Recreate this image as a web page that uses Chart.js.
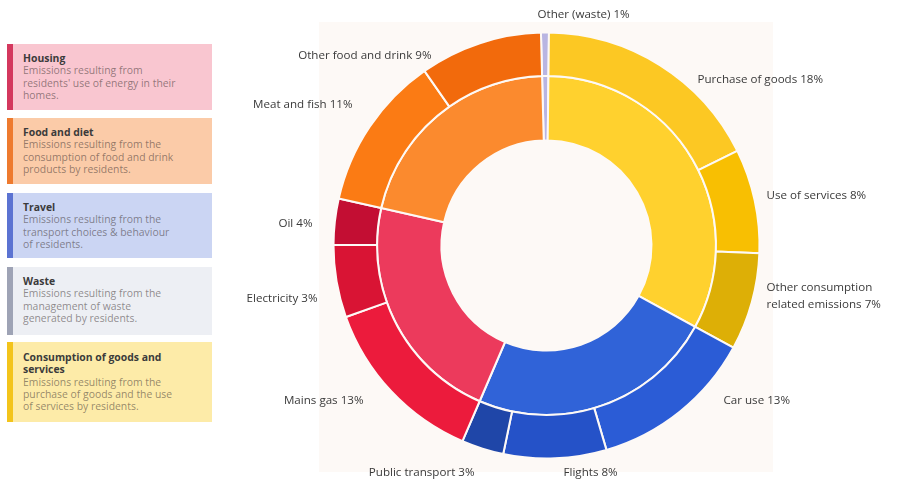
<!DOCTYPE html>
<html>
<head>
<meta charset="utf-8">
<script src="https://cdn.jsdelivr.net/npm/chart.js@4.4.1/dist/chart.umd.min.js"></script>
<style>
  html, body { margin:0; padding:0; background:#ffffff; width:900px; height:480px; overflow:hidden; }
  #panel { position:absolute; left:319px; top:22px; width:454px; height:450px; background:#fdf9f6; }
  #wrap { position:absolute; left:0; top:0; width:900px; height:480px; }
  .lg { position:absolute; left:7px; width:205px; box-sizing:border-box; padding:8px 0 0 16px;
        font-family:"Open Sans", sans-serif; font-size:10.4px; line-height:12.3px; }
  .lg .bar { position:absolute; left:0; top:0; bottom:0; width:6px; }
  .lg .t { font-weight:bold; color:#3b3b3b; }
  .lg .d { color:rgba(60,50,50,0.55); }
</style>
</head>
<body>
<div id="panel"></div>
<div id="legend"></div>
<div id="wrap"><canvas id="c" width="900" height="480"></canvas></div>
<script>
// ---- data ----
const outerNames = ['Other (waste)', 'Purchase of goods', 'Use of services', 'Other consumption related emissions',
  'Car use', 'Flights', 'Public transport', 'Mains gas', 'Electricity', 'Oil', 'Meat and fish', 'Other food and drink'];
const outerLabelPct = [1, 18, 8, 7, 13, 8, 3, 13, 3, 4, 11, 9];          // percentages printed in the labels
const outerArcValues = [0.6, 17.5, 7.9, 7.4, 12.5, 7.8, 3.2, 13.1, 5.5, 3.5, 11.75, 9.3]; // arc sizes as drawn
const outerColors = ['#b9b5e2', '#fcc823', '#f8bf02', '#ddaf06', '#2b5cd6', '#2552c8', '#1f46a8',
  '#ec1b3c', '#d91434', '#c30e33', '#fb7b14', '#f26a0c'];

const innerNames = ['Waste', 'Consumption of goods and services', 'Travel', 'Housing', 'Food and diet'];
const innerArcValues = [0.6, 32.8, 23.5, 22.1, 21.05];
const innerColors = ['#b9b5e2', '#ffd12e', '#3063d8', '#ec3a5c', '#fb8a2e'];

const legendTitles = [['Housing'], ['Food and diet'], ['Travel'], ['Waste'], ['Consumption of goods and', 'services']];
const legendDescs = [
  ['Emissions resulting from', "residents' use of energy in their", 'homes.'],
  ['Emissions resulting from the', 'consumption of food and drink', 'products by residents.'],
  ['Emissions resulting from the', 'transport choices & behaviour', 'of residents.'],
  ['Emissions resulting from the', 'management of waste', 'generated by residents.'],
  ['Emissions resulting from the', 'purchase of goods and the use', 'of services by residents.']
];
const legendBg = ['#f9c6d0', '#fbcba8', '#cbd5f3', '#edeff4', '#fdeba8'];
const legendBar = ['#d4385e', '#ee7a2e', '#5b73d2', '#9ea3b5', '#f3c41b'];

// ---- layout (not data) ----
const legendTops = [44, 118, 193, 267, 342];
const legendHeights = [66, 66, 65, 68, 80];
const legendPadTop = [8, 8, 8, 8, 9];
// label anchors relative to the doughnut centre: [dx, dy, align]
const labelAnchors = [
  [-9, -231, 'left'], [151, -166, 'left'], [220, -50, 'left'], [220, 42, 'left'],
  [177, 155, 'left'], [17, 227, 'left'], [-72, 227, 'right'], [-183, 155, 'right'],
  [-229, 53, 'right'], [-234, -22, 'right'], [-194, -141, 'right'], [-115, -190, 'right']
];

// ---- legend ----
const lg = document.getElementById('legend');
legendTitles.forEach((t, i) => {
  const d = document.createElement('div');
  d.className = 'lg';
  d.style.top = legendTops[i] + 'px';
  d.style.height = legendHeights[i] + 'px';
  d.style.paddingTop = legendPadTop[i] + 'px';
  d.style.background = legendBg[i];
  d.innerHTML = '<div class="bar" style="background:' + legendBar[i] + '"></div>' +
    t.map(s => '<div class="t">' + s + '</div>').join('') +
    legendDescs[i].map(s => '<div class="d">' + s + '</div>').join('');
  lg.appendChild(d);
});

// ---- labels plugin ----
const labelPlugin = {
  id: 'ringLabels',
  afterDraw(chart) {
    const meta = chart.getDatasetMeta(0);
    const arc = meta.data[0];
    const cx = arc.x, cy = arc.y;
    const ctx = chart.ctx;
    ctx.save();
    ctx.font = '11.6px "Open Sans", sans-serif';
    ctx.fillStyle = '#3a3a3a';
    ctx.textBaseline = 'middle';
    outerNames.forEach((n, i) => {
      const a = labelAnchors[i];
      ctx.textAlign = a[2];
      const txt = n + ' ' + outerLabelPct[i] + '%';
      if (i === 3) {
        ctx.fillText('Other consumption', cx + a[0], cy + a[1]);
        ctx.fillText('related emissions ' + outerLabelPct[i] + '%', cx + a[0], cy + a[1] + 17);
      } else {
        ctx.fillText(txt, cx + a[0], cy + a[1]);
      }
    });
    ctx.restore();
  }
};

new Chart(document.getElementById('c'), {
  type: 'doughnut',
  data: {
    labels: outerNames,
    datasets: [
      { data: outerArcValues, backgroundColor: outerColors, borderColor: '#fdf9f6', borderWidth: 2, weight: 43.5 },
      { data: innerArcValues, backgroundColor: innerColors, borderColor: '#fdf9f6', borderWidth: 2, weight: 64.5, labels: innerNames }
    ]
  },
  options: {
    responsive: false,
    animation: false,
    rotation: -1.5,
    cutout: 105,
    layout: { padding: { left: 332.5, right: 139.5, top: 31.5, bottom: 20.5 } },
    plugins: { legend: { display: false }, tooltip: { enabled: false } }
  },
  plugins: [labelPlugin]
});
</script>
</body>
</html>
